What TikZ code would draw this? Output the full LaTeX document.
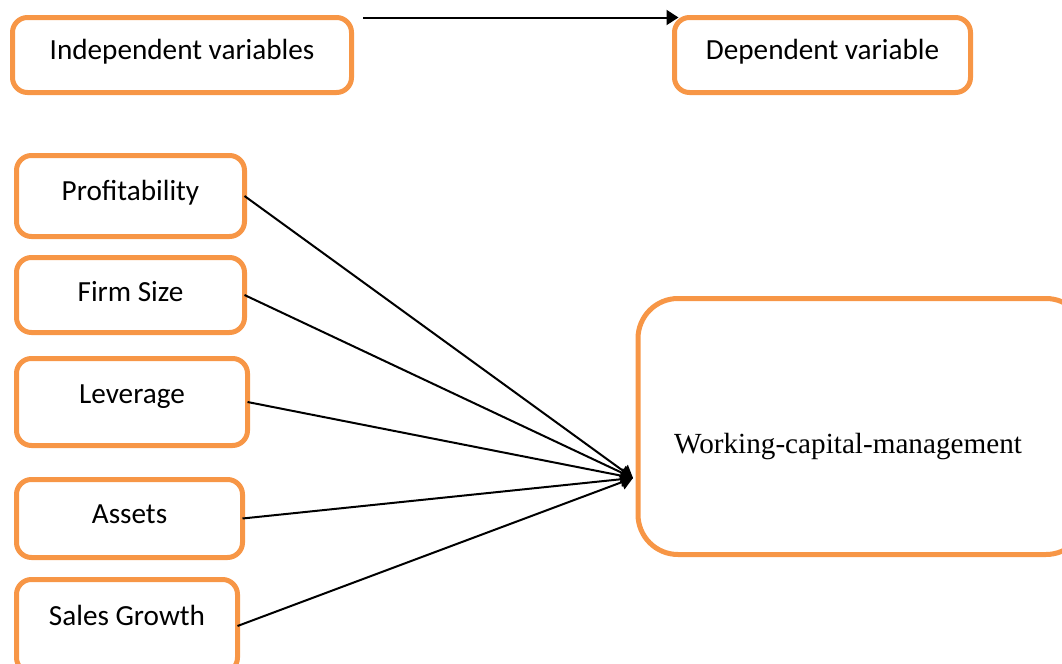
\documentclass[tikz,border=0pt]{standalone}
\usepackage{fontspec}
\setmainfont{Carlito}
\newfontfamily\timesfont{Liberation Serif}
\usetikzlibrary{arrows.meta}
\definecolor{boxorange}{HTML}{F79646}

\begin{document}
\begin{tikzpicture}[
  x=0.5pt, y=-0.5pt,
  box/.style={draw=boxorange, line width=2.5pt, rounded corners=7.5pt, outer sep=0pt, inner sep=0pt},
  bigbox/.style={box, rounded corners=20pt},
  lbl/.style={font=\fontsize{14.6}{17}\selectfont, inner sep=0pt},
  link/.style={line width=1pt, -{Triangle[length=6pt,width=7.5pt]}}
  ]
  \clip (0,0) rectangle (1062,664);

  \node[box, minimum width=169.5pt, minimum height=37.5pt] (NIndep) at (182,55) {};
  \node[box, minimum width=148pt, minimum height=37.5pt] (NDep) at (822.5,55) {};
  \node[box, minimum width=114pt, minimum height=40.5pt] (NProf) at (130.5,196) {};
  \node[box, minimum width=114pt, minimum height=37.5pt] (NFirm) at (130.5,295) {};
  \node[box, minimum width=115.5pt, minimum height=43.5pt] (NLev) at (132,402) {};
  \node[box, minimum width=113pt, minimum height=39pt] (NAssets) at (129.5,518.5) {};
  \node[box, minimum width=110.5pt, minimum height=46.5pt] (NSales) at (127,626) {};
  \node[bigbox, minimum width=224pt, minimum height=128pt] (NWcm) at (862,426.5) {};

  \path (NIndep) ++(0,-3.5) node[lbl] (NIndepTxt) {Independent variables};
  \path (NDep) ++(0,-3.5) node[lbl] (NDepTxt) {Dependent variable};
  \path (NProf) ++(0,-3) node[lbl] (NProfTxt) {Profitability};
  \path (NFirm) ++(0,-3) node[lbl] (NFirmTxt) {Firm Size};
  \path (NLev) ++(0,-5) node[lbl] (NLevTxt) {Leverage};
  \path (NAssets) ++(0,-4.5) node[lbl] (NAssetsTxt) {Assets};
  \path (NSales) ++(0,-11) node[lbl] (NSalesTxt) {Sales Growth};
  \path (NWcm) ++(-14,20.5) node[lbl, font=\timesfont\fontsize{14.6}{17}\selectfont] (NWcmTxt) {Working-capital-management};

  \coordinate (NTip) at (633,478);

  \draw[link] ([xshift=5.75pt]NIndep.north east) -- ([xshift=2pt]NDep.north west);
  \draw[link] (NProf.east)   -- (NTip);
  \draw[link] (NFirm.east)   -- (NTip);
  \draw[link] (NLev.east)    -- (NTip);
  \draw[link] (NAssets.east) -- (NTip);
  \draw[link] (NSales.east)  -- (NTip);
\end{tikzpicture}
\end{document}
